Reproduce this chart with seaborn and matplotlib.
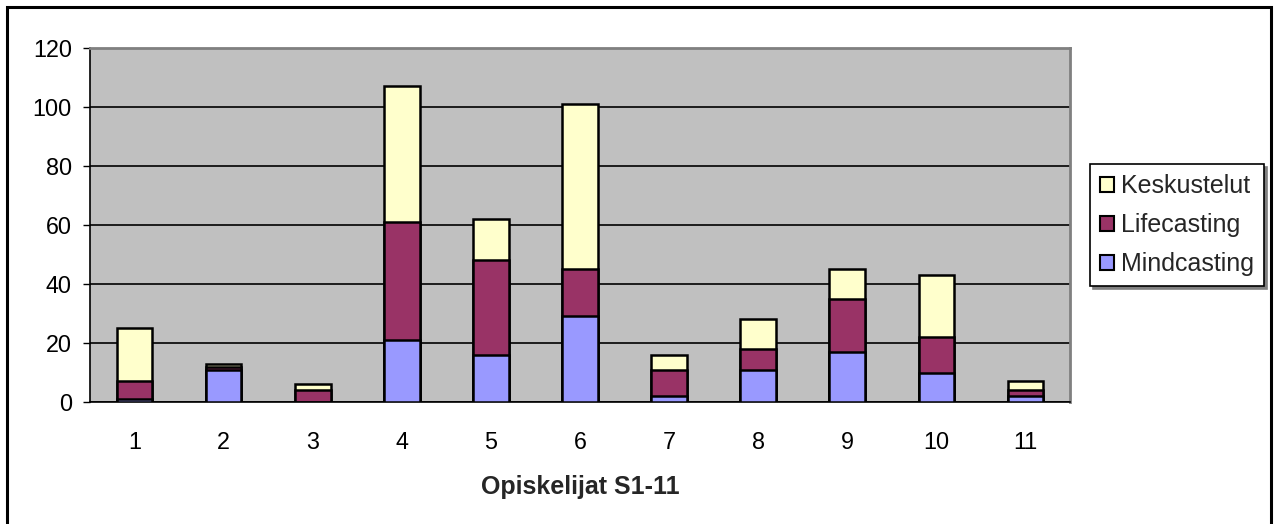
import numpy as np
import pandas as pd
import matplotlib
matplotlib.use("Agg")
import matplotlib.pyplot as plt
from matplotlib.patches import Rectangle, Patch
import seaborn as sns

# Student activity per student, by post type
students = ["1", "2", "3", "4", "5", "6", "7", "8", "9", "10", "11"]
mindcasting = [1, 11, 0, 21, 16, 29, 2, 11, 17, 10, 2]
lifecasting = [6, 1, 4, 40, 32, 16, 9, 7, 18, 12, 2]
keskustelut = [18, 1, 2, 46, 14, 56, 5, 10, 10, 21, 3]

series_names = ["Keskustelut", "Lifecasting", "Mindcasting"]
colors = {"Keskustelut": "#FFFFCC", "Lifecasting": "#993366", "Mindcasting": "#9999FF"}

sns.set_theme(style="white")
plt.rcParams["font.family"] = ["Liberation Sans", "DejaVu Sans"]

df = pd.DataFrame({
    "student": students,
    "Mindcasting": mindcasting,
    "Lifecasting": lifecasting,
    "Keskustelut": keskustelut,
})
# Cumulative heights for stacking: draw tallest layer first
df["top_M"] = df["Mindcasting"]
df["top_L"] = df["top_M"] + df["Lifecasting"]
df["top_K"] = df["top_L"] + df["Keskustelut"]

W, H = 1275, 524
fig = plt.figure(figsize=(W / 100, H / 100), dpi=100)
ax = fig.add_axes([90 / W, (H - 402) / H, (1070 - 90) / W, (402 - 48) / H])
ax.set_facecolor("#C0C0C0")

for col, name in [("top_K", "Keskustelut"), ("top_L", "Lifecasting"), ("top_M", "Mindcasting")]:
    sns.barplot(data=df, x="student", y=col, order=students, color=colors[name],
                saturation=1, width=0.4, edgecolor="black", linewidth=1.8, ax=ax, zorder=3)

ax.set_ylim(0, 120)
ax.set_xlim(-0.5, len(students) - 0.5)
ax.set_yticks(np.arange(0, 121, 20))
ax.yaxis.grid(True, color="black", linewidth=1.2)
ax.set_axisbelow(True)
ax.set_ylabel("")

ax.set_xticks(range(len(students)))
ax.set_xticklabels(students)
ax.set_xticks(np.arange(-0.5, len(students), 1), minor=True)
ax.tick_params(axis="x", which="major", length=0, pad=21, labelsize=16.8, colors="black")
ax.tick_params(axis="x", which="minor", length=6, width=1, direction="out", color="#333333")
ax.tick_params(axis="y", which="major", length=5, width=1, direction="out", pad=8,
               labelsize=16.8, colors="black", left=True)
ax.set_xlabel("Opiskelijat S1-11", fontsize=18, fontweight="bold", labelpad=15)

for side in ["left", "bottom"]:
    ax.spines[side].set_color("black")
    ax.spines[side].set_linewidth(1.2)
for side in ["top", "right"]:
    ax.spines[side].set_color("#808080")
    ax.spines[side].set_linewidth(2)

handles = [Patch(facecolor=colors[n], edgecolor="black", linewidth=1.5) for n in series_names]
leg = ax.legend(handles, series_names, loc="center left",
                bbox_to_anchor=(1090 / W, (H - 225) / H), bbox_transform=fig.transFigure,
                fontsize=18, frameon=True, fancybox=False, edgecolor="black",
                handlelength=0.55, handleheight=0.55, handletextpad=0.3,
                labelspacing=0.6, borderpad=0.4, borderaxespad=0,
                shadow={"ox": 2, "oy": -2, "color": "#808080", "alpha": 1})
leg.get_frame().set_linewidth(1.2)

# Outer chart border
fig.patches.append(Rectangle((7 / W, -0.02), (1271 - 7) / W, (H - 7) / H + 0.02,
                             transform=fig.transFigure, fill=False,
                             edgecolor="black", linewidth=2.2))

fig.savefig("out.png", dpi=100, facecolor="white")
